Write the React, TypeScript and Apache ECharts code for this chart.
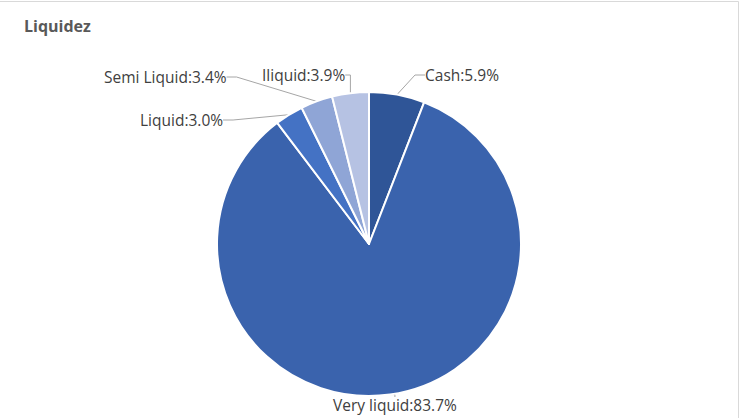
import React, { useEffect, useRef } from "react";
import * as echarts from "echarts";

// Liquidity breakdown, in percent
const categories = ["Cash", "Very liquid", "Liquid", "Semi Liquid", "Iliquid"];
const shares = [5.9, 83.7, 3.0, 3.4, 3.9];
const sliceColors = ["#2F5597", "#3A63AD", "#4472C4", "#8FA5D6", "#B6C2E3"];

// Where each slice label sits: [left x, centre y]
const labelSpots: [number, number][] = [
  [425, 75],
  [333, 405],
  [140, 120],
  [104, 77],
  [262, 75],
];

export default function App() {
  const ref = useRef<HTMLDivElement>(null);

  useEffect(() => {
    document.body.style.margin = "0";
    if (!ref.current) return;
    const chart = echarts.init(ref.current, null, { renderer: "svg" });
    const font = "'Open Sans', Lato, sans-serif";

    chart.setOption({
      animation: false,
      backgroundColor: "#ffffff",
      title: {
        text: "Liquidez",
        left: 19,
        top: 13,
        textStyle: {
          fontFamily: font,
          fontSize: 16,
          fontWeight: "bold",
          color: "#595959",
        },
      },
      graphic: [
        {
          type: "rect",
          shape: { x: -5, y: 1.5, width: 743.5, height: 500 },
          style: { fill: "none", stroke: "#d9d9d9", lineWidth: 1 },
          silent: true,
        },
      ],
      series: [
        {
          type: "pie",
          center: [369, 244],
          radius: 152,
          startAngle: 90,
          clockwise: true,
          data: categories.map((name, i) => ({
            name,
            value: shares[i],
            itemStyle: { color: sliceColors[i] },
          })),
          itemStyle: { borderColor: "#ffffff", borderWidth: 2 },
          label: {
            show: true,
            formatter: (p: any) => `${p.name}:${p.value.toFixed(1)}%`,
            fontFamily: font,
            fontSize: 15.5,
            color: "#404040",
          },
          labelLine: {
            show: true,
            length: 10,
            length2: 10,
            lineStyle: { color: "#a6a6a6", width: 1 },
          },
          labelLayout: (params: any) => {
            const [x, y] = labelSpots[params.dataIndex];
            return { x, y, align: "left", verticalAlign: "middle" };
          },
          emphasis: { disabled: true },
        },
      ],
    });

    return () => chart.dispose();
  }, []);

  return <div ref={ref} style={{ width: 746, height: 418 }} />;
}
